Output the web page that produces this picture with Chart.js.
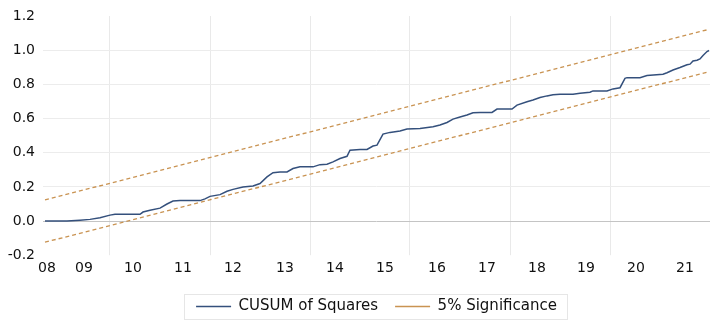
<!DOCTYPE html>
<html>
<head>
<meta charset="utf-8">
<script src="https://cdn.jsdelivr.net/npm/chart.js@4/dist/chart.umd.min.js"></script>
<style>
  html, body { margin: 0; padding: 0; background: #fff; }
  canvas { display: block; }
</style>
</head>
<body>
<canvas id="cusumChart" width="724" height="327"></canvas>
<script>
// CUSUM of squares (x in years, y value)
const cusumYears = [2008.24, 2008.68, 2008.94, 2009.14, 2009.34, 2009.54, 2009.64, 2010.14, 2010.2, 2010.34,
    2010.54, 2010.68, 2010.8, 2010.94, 2011.34, 2011.44, 2011.54, 2011.74, 2011.88, 2012.0,
    2012.2, 2012.4, 2012.54, 2012.68, 2012.8, 2012.94, 2013.08, 2013.2, 2013.34, 2013.6,
    2013.74, 2013.88, 2014.0, 2014.14, 2014.28, 2014.34, 2014.54, 2014.68, 2014.8, 2014.88,
    2015.0, 2015.14, 2015.34, 2015.48, 2015.74, 2016.0, 2016.14, 2016.28, 2016.4, 2016.54,
    2016.68, 2016.8, 2016.94, 2017.18, 2017.28, 2017.58, 2017.68, 2017.88, 2018.0, 2018.14,
    2018.28, 2018.4, 2018.54, 2018.8, 2018.94, 2019.14, 2019.2, 2019.48, 2019.6, 2019.74,
    2019.84, 2019.88, 2020.14, 2020.28, 2020.6, 2020.68, 2020.8, 2020.94, 2021.08, 2021.14,
    2021.2, 2021.28, 2021.34, 2021.4, 2021.48, 2021.52];
const cusumValues = [0.0, 0.0, 0.005, 0.01, 0.02, 0.035, 0.04, 0.04, 0.053, 0.063,
    0.076, 0.1, 0.118, 0.12, 0.12, 0.13, 0.145, 0.155, 0.175, 0.186,
    0.2, 0.206, 0.22, 0.259, 0.284, 0.288, 0.288, 0.308, 0.318, 0.318,
    0.331, 0.333, 0.347, 0.367, 0.38, 0.416, 0.42, 0.42, 0.44, 0.445,
    0.51, 0.52, 0.528, 0.54, 0.543, 0.553, 0.563, 0.578, 0.598, 0.61,
    0.622, 0.635, 0.637, 0.637, 0.657, 0.657, 0.68, 0.7, 0.71, 0.724,
    0.734, 0.74, 0.743, 0.743, 0.749, 0.755, 0.763, 0.763, 0.775, 0.782,
    0.837, 0.841, 0.841, 0.853, 0.861, 0.87, 0.886, 0.9, 0.916, 0.92,
    0.939, 0.943, 0.951, 0.971, 0.994, 1.0];

// 5% significance band (straight lines)
const bandYears = [2008.24, 2021.52];
const upperBand = [0.124, 1.124];
const lowerBand = [-0.124, 0.876];

// x axis labels and where they sit
const tickYears = [2008.28, 2009.02, 2010.0, 2011.0, 2012.0, 2013.04, 2014.04, 2015.04,
    2016.08, 2017.08, 2018.08, 2019.06, 2020.06, 2021.04];
const tickLabels = ['08', '09', '10', '11', '12', '13', '14', '15', '16', '17', '18', '19', '20', '21'];
// vertical grid lines
const gridYears = [2009.54, 2011.56, 2013.56, 2015.54, 2017.56, 2019.56];

const lineColor = '#34507c';
const bandColor = '#c99352';

function toPoints(xs, ys) {
    return xs.map((x, i) => ({ x: x, y: ys[i] }));
}

const legendBorder = {
    id: 'legendBorder',
    afterDraw(chart) {
        const boxes = chart.legend && chart.legend.legendHitBoxes;
        if (!boxes || !boxes.length) return;
        const left = Math.min(...boxes.map(b => b.left));
        const right = Math.max(...boxes.map(b => b.left + b.width));
        const top = Math.min(...boxes.map(b => b.top));
        const bottom = Math.max(...boxes.map(b => b.top + b.height));
        const ctx = chart.ctx;
        ctx.save();
        ctx.strokeStyle = '#e6e6e6';
        ctx.lineWidth = 1;
        ctx.strokeRect(Math.round(left - 12) + 0.5, Math.round(top - 5) + 0.5,
            Math.round(right - left + 22), Math.round(bottom - top + 10));
        ctx.restore();
    }
};

const ctx = document.getElementById('cusumChart').getContext('2d');
const cusumChart = new Chart(ctx, {
    type: 'line',
    data: {
        datasets: [
            {
                label: 'CUSUM of Squares',
                data: toPoints(cusumYears, cusumValues),
                borderColor: lineColor,
                backgroundColor: 'transparent',
                borderWidth: 1.5,
                pointRadius: 0,
                tension: 0,
            },
            {
                label: '5% Significance',
                data: toPoints(bandYears, upperBand),
                borderColor: bandColor,
                backgroundColor: 'transparent',
                borderWidth: 1.3,
                borderDash: [4, 3],
                pointRadius: 0,
            },
            {
                label: 'lower',
                data: toPoints(bandYears, lowerBand),
                borderColor: bandColor,
                backgroundColor: 'transparent',
                borderWidth: 1.3,
                borderDash: [4, 3],
                pointRadius: 0,
            },
        ],
    },
    options: {
        responsive: false,
        animation: false,
        layout: {
            padding: { top: 8, right: 14, left: 0, bottom: 3 },
        },
        scales: {
            x: {
                type: 'linear',
                min: 2008.2,
                max: 2021.54,
                afterBuildTicks(scale) {
                    scale.ticks = tickYears.map(v => ({ value: v }));
                },
                ticks: {
                    autoSkip: false,
                    maxRotation: 0,
                    padding: 5,
                    color: '#111',
                    font: { family: 'DejaVu Sans', size: 14 },
                    callback: (value, index) => tickLabels[index],
                },
                grid: { display: false, drawTicks: false },
                border: { display: false },
            },
            xg: {
                type: 'linear',
                position: 'top',
                min: 2008.2,
                max: 2021.54,
                afterBuildTicks(scale) {
                    scale.ticks = gridYears.map(v => ({ value: v }));
                },
                afterFit(scale) {
                    scale.height = 0;
                },
                ticks: { display: false },
                grid: { color: '#e9e9e9', drawTicks: false },
                border: { display: false },
            },
            y: {
                min: -0.2,
                max: 1.2,
                afterBuildTicks(scale) {
                    scale.ticks = [-0.2, 0, 0.2, 0.4, 0.6, 0.8, 1.0, 1.2].map(v => ({ value: v }));
                },
                afterFit(scale) {
                    scale.width = 43;
                },
                ticks: {
                    padding: 8,
                    color: '#111',
                    font: { family: 'DejaVu Sans', size: 14 },
                    callback: v => v.toFixed(1),
                },
                grid: {
                    drawTicks: false,
                    color: c => {
                        const v = c.tick ? Math.round(c.tick.value * 10) / 10 : null;
                        if (v === 0) return '#c4c4c4';
                        if (v === -0.2 || v === 1.2) return 'rgba(0,0,0,0)';
                        return '#ececec';
                    },
                },
                border: { display: false },
            },
        },
        plugins: {
            legend: {
                position: 'bottom',
                fullSize: false,
                labels: {
                    boxWidth: 35,
                    boxHeight: 0,
                    padding: 17,
                    color: '#111',
                    font: { family: 'DejaVu Sans', size: 15 },
                    filter: item => item.text !== 'lower',
                },
            },
            tooltip: { enabled: false },
        },
    },
    plugins: [legendBorder],
});
</script>
</body>
</html>
